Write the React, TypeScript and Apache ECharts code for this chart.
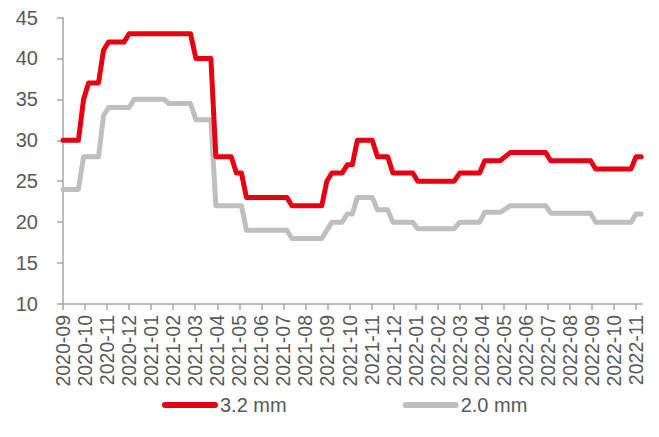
import React, { useEffect, useRef } from "react";
import * as echarts from "echarts";

const monthLabels = [
  "2020-09", "2020-10", "2020-11", "2020-12", "2021-01", "2021-02", "2021-03",
  "2021-04", "2021-05", "2021-06", "2021-07", "2021-08", "2021-09", "2021-10",
  "2021-11", "2021-12", "2022-01", "2022-02", "2022-03", "2022-04", "2022-05",
  "2022-06", "2022-07", "2022-08", "2022-09", "2022-10", "2022-11",
];

const yTicks = [10, 15, 20, 25, 30, 35, 40, 45];

const firstWeek = "2020-09-01";

const series32mm = [
  30, 30, 30, 30, 35, 37, 37, 37, 41, 42, 42, 42, 42,
  43, 43, 43, 43, 43, 43, 43, 43, 43, 43, 43, 43, 43,
  40, 40, 40, 40, 28, 28, 28, 28, 26, 26,
  23, 23, 23, 23, 23, 23, 23, 23, 23,
  22, 22, 22, 22, 22, 22, 22, 25, 26, 26, 26, 27, 27,
  30, 30, 30, 30, 28, 28, 28, 26, 26, 26, 26, 26,
  25, 25, 25, 25, 25, 25, 25, 25, 26, 26, 26, 26, 26,
  27.5, 27.5, 27.5, 27.5, 28, 28.5, 28.5, 28.5, 28.5, 28.5, 28.5, 28.5, 28.5,
  27.5, 27.5, 27.5, 27.5, 27.5, 27.5, 27.5, 27.5, 27.5,
  26.5, 26.5, 26.5, 26.5, 26.5, 26.5, 26.5, 26.5, 28, 28,
];

const series20mm = [
  24, 24, 24, 24, 28, 28, 28, 28, 33, 34, 34, 34, 34,
  34, 35, 35, 35, 35, 35, 35, 35, 34.5, 34.5, 34.5, 34.5, 34.5,
  32.5, 32.5, 32.5, 32.5, 22, 22, 22, 22, 22, 22,
  19, 19, 19, 19, 19, 19, 19, 19, 19,
  18, 18, 18, 18, 18, 18, 18, 19, 20, 20, 20, 21, 21,
  23, 23, 23, 23, 21.5, 21.5, 21.5, 20, 20, 20, 20, 20,
  19.2, 19.2, 19.2, 19.2, 19.2, 19.2, 19.2, 19.2, 20, 20, 20, 20, 20,
  21.2, 21.2, 21.2, 21.2, 21.6, 22, 22, 22, 22, 22, 22, 22, 22,
  21.1, 21.1, 21.1, 21.1, 21.1, 21.1, 21.1, 21.1, 21.1,
  20, 20, 20, 20, 20, 20, 20, 20, 21, 21,
];

const seriesNames = ["3.2 mm", "2.0 mm"];
const seriesColors = ["#E60012", "#BFBFBF"];

// position of a date on the month axis (0 = first month label)
function monthPos(d: Date): number {
  const [y0, m0] = monthLabels[0].split("-").map(Number);
  const y = d.getUTCFullYear();
  const m = d.getUTCMonth();
  const idx = (y - y0) * 12 + (m - (m0 - 1));
  const dim = new Date(Date.UTC(y, m + 1, 0)).getUTCDate();
  return idx + (d.getUTCDate() - 1) / dim;
}

function weeklyPoints(values: number[]): [number, number][] {
  const start = new Date(firstWeek + "T00:00:00Z").getTime();
  return values.map((v, i) => {
    const d = new Date(start + i * 7 * 86400000);
    return [monthPos(d), v];
  });
}

const FONT = "'Liberation Sans', Arial, sans-serif";
const TEXT = "#595959";
const AXIS = "#A6A6A6";

export default function App() {
  const ref = useRef<HTMLDivElement>(null);
  useEffect(() => {
    if (!ref.current) return;
    const chart = echarts.init(ref.current, undefined, { renderer: "svg" });
    const legendIcon = "path://M3,0 L53,0 A3,3 0 0 1 53,6 L3,6 A3,3 0 0 1 3,0 Z";
    chart.setOption({
      animation: false,
      backgroundColor: "#ffffff",
      grid: { left: 63, right: 17, top: 17.5, bottom: 133, containLabel: false },
      legend: {
        data: seriesNames,
        left: 162,
        top: 395,
        padding: 0,
        icon: legendIcon,
        itemWidth: 56,
        itemHeight: 6,
        itemGap: 116,
        textStyle: { fontFamily: FONT, fontSize: 20, color: TEXT, padding: [0, 0, 0, -3] },
      },
      xAxis: {
        type: "value",
        min: 0,
        max: 26.27,
        interval: 1,
        axisLine: { show: true, lineStyle: { color: AXIS, width: 1.5 } },
        axisTick: {
          show: true,
          length: 6,
          lineStyle: { color: AXIS, width: 1.5 },
          customValues: monthLabels.map((_, i) => i),
        },
        axisLabel: {
          rotate: 90,
          margin: 11,
          fontFamily: FONT,
          fontSize: 19.5,
          color: TEXT,
          customValues: monthLabels.map((_, i) => i),
          formatter: (v: number) => {
            const i = Math.round(v);
            return Math.abs(v - i) < 1e-6 && monthLabels[i] ? monthLabels[i] : "";
          },
        },
        splitLine: { show: false },
      },
      yAxis: {
        type: "value",
        min: yTicks[0],
        max: yTicks[yTicks.length - 1],
        interval: 5,
        axisLine: { show: true, lineStyle: { color: AXIS, width: 1.5 } },
        axisTick: { show: true, length: 6, lineStyle: { color: AXIS, width: 1.5 } },
        axisLabel: { margin: 25, fontFamily: FONT, fontSize: 20, color: TEXT },
        splitLine: { show: false },
      },
      series: [
        {
          name: seriesNames[0],
          type: "line",
          data: weeklyPoints(series32mm),
          symbol: "none",
          clip: false,
          z: 3,
          itemStyle: { color: seriesColors[0] },
          lineStyle: { color: seriesColors[0], width: 5, cap: "round", join: "round" },
        },
        {
          name: seriesNames[1],
          type: "line",
          data: weeklyPoints(series20mm),
          symbol: "none",
          clip: false,
          z: 2,
          itemStyle: { color: seriesColors[1] },
          lineStyle: { color: seriesColors[1], width: 5, cap: "round", join: "round" },
        },
      ],
    });
    return () => chart.dispose();
  }, []);
  return (
    <div
      ref={ref}
      style={{ position: "fixed", left: 0, top: 0, width: 659, height: 437, background: "#fff" }}
    />
  );
}
